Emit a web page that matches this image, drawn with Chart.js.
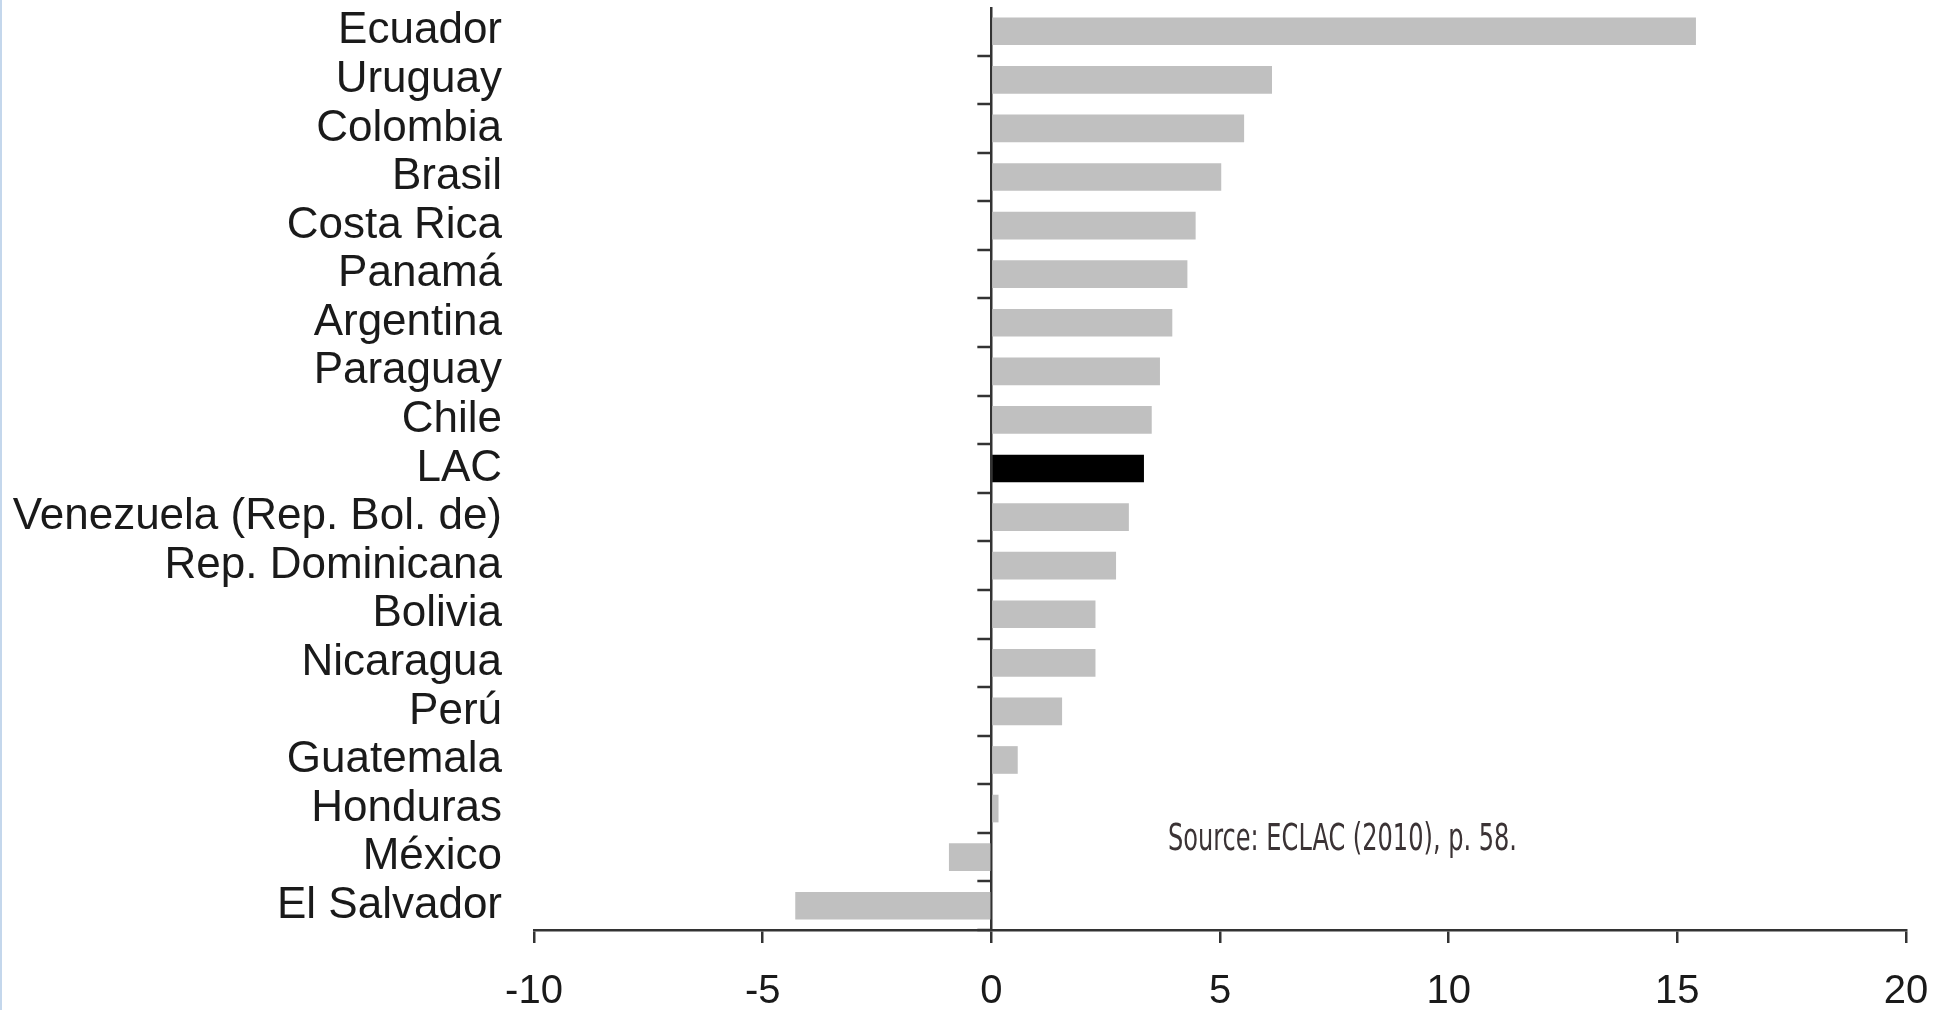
<!DOCTYPE html>
<html>
<head>
<meta charset="utf-8">
<script src="https://cdn.jsdelivr.net/npm/chart.js@4"></script>
<style>
  html, body { margin: 0; padding: 0; background: #fff; }
  canvas { display: block; }
</style>
</head>
<body>
<canvas id="chart" width="1948" height="1010"></canvas>
<script>
const countries = ['Ecuador', 'Uruguay', 'Colombia', 'Brasil', 'Costa Rica', 'Panamá', 'Argentina',
  'Paraguay', 'Chile', 'LAC', 'Venezuela (Rep. Bol. de)', 'Rep. Dominicana', 'Bolivia',
  'Nicaragua', 'Perú', 'Guatemala', 'Honduras', 'México', 'El Salvador'];
const values = [15.4, 6.13, 5.52, 5.02, 4.46, 4.28, 3.95, 3.68, 3.5, 3.33, 3.0, 2.72, 2.27,
  2.27, 1.54, 0.57, 0.15, -0.92, -4.28];
const highlight = 'LAC';
const xMin = -10;
const xMax = 20;
const xStep = 5;
const sourceNote = 'Source: ECLAC (2010), p. 58.';

const barColors = countries.map(c => c === highlight ? '#000000' : '#c0c0c0');

// small ticks on the zero line between categories + source note
const extras = {
  id: 'extras',
  afterDatasetsDraw(chart) {
    const ctx = chart.ctx;
    const x = chart.scales.x;
    const y = chart.scales.y;
    const x0 = x.getPixelForValue(0);
    const half = (y.getPixelForValue(1) - y.getPixelForValue(0)) / 2;
    ctx.save();
    ctx.strokeStyle = '#333333';
    ctx.lineWidth = 2.5;
    for (let i = 0; i < countries.length; i++) {
      const py = Math.round(y.getPixelForValue(i) + half);
      ctx.beginPath();
      ctx.moveTo(x0 - 14, py);
      ctx.lineTo(x0, py);
      ctx.stroke();
    }
    ctx.restore();
  },
  afterDraw(chart) {
    const ctx = chart.ctx;
    ctx.save();
    // left page edge line
    ctx.fillStyle = '#c4d7ec';
    ctx.fillRect(0, 0, 2, chart.height);
    // source note, condensed
    ctx.font = '37px "Liberation Sans Narrow", "DejaVu Sans Condensed", sans-serif';
    ctx.fillStyle = '#3b3335';
    ctx.textBaseline = 'alphabetic';
    const w = ctx.measureText(sourceNote).width;
    ctx.translate(1168, 850);
    ctx.scale(349 / w, 1);
    ctx.fillText(sourceNote, 0, 0);
    ctx.restore();
  }
};

new Chart(document.getElementById('chart'), {
  type: 'bar',
  data: {
    labels: countries,
    datasets: [{
      data: values,
      backgroundColor: barColors,
      borderWidth: 0,
      barThickness: 27
    }]
  },
  options: {
    indexAxis: 'y',
    responsive: false,
    animation: false,
    devicePixelRatio: 1,
    layout: { padding: { top: 7, right: 42, left: 0, bottom: 0 } },
    plugins: {
      legend: { display: false },
      tooltip: { enabled: false }
    },
    scales: {
      x: {
        type: 'linear',
        min: xMin,
        max: xMax,
        afterFit: (scale) => {
          scale.height = 80;
          scale.paddingRight = 0;
        },
        ticks: {
          stepSize: xStep,
          padding: 25,
          color: '#1a1a1a',
          font: { family: '"Liberation Sans", Arial, sans-serif', size: 40 }
        },
        grid: {
          color: (c) => (c.tick && c.tick.value === 0) ? '#333333' : 'rgba(0,0,0,0)',
          lineWidth: 2.5,
          drawTicks: true,
          tickLength: 13,
          tickColor: '#333333',
          tickWidth: 2.5
        },
        border: { display: true, color: '#333333', width: 2.5 }
      },
      y: {
        type: 'category',
        afterFit: (scale) => {
          scale.width = 534;
          scale.paddingTop = 0;
          scale.paddingBottom = 0;
        },
        ticks: {
          autoSkip: false,
          padding: 24,
          color: '#1a1a1a',
          font: { family: '"Liberation Sans", Arial, sans-serif', size: 44, lineHeight: 1 }
        },
        grid: { display: false },
        border: { display: false }
      }
    }
  },
  plugins: [extras]
});
</script>
</body>
</html>
